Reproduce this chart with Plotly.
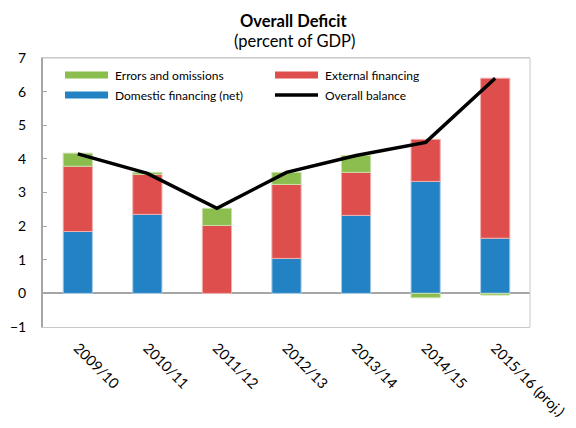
import plotly.graph_objects as go

categories = ["2009/10", "2010/11", "2011/12", "2012/13", "2013/14", "2014/15", "2015/16 (proj.)"]
domestic = [1.84, 2.35, 0.0, 1.04, 2.32, 3.33, 1.64]
external = [1.94, 1.19, 2.02, 2.20, 1.28, 1.25, 4.76]
errors = [0.39, 0.06, 0.51, 0.36, 0.50, -0.13, -0.05]
overall = [4.15, 3.57, 2.53, 3.60, 4.10, 4.49, 6.40]

FONT = "Lato"
C_DOM, C_EXT, C_ERR = "#2382c4", "#dd4e4c", "#8cbd4f"

fig = go.Figure()
fig.add_trace(go.Bar(x=categories, y=domestic, name="Domestic financing (net)",
                     marker=dict(color=C_DOM, line=dict(color="#a9cde9", width=1))))
fig.add_trace(go.Bar(x=categories, y=external, name="External financing",
                     marker=dict(color=C_EXT, line=dict(color="#f0b0ae", width=1))))
fig.add_trace(go.Bar(x=categories, y=errors, name="Errors and omissions",
                     marker=dict(color=C_ERR, line=dict(color="#c8e0ab", width=1))))
fig.add_trace(go.Scatter(x=categories, y=overall, name="Overall balance", mode="lines",
                         line=dict(color="black", width=3.5)))

W, H = 568, 420
ML, MR, MT, MB = 35, 46, 50, 101
PW, PH = W - ML - MR, H - MT - MB


def px_x(px):  # page pixel -> paper x (page has 8px body margin)
    return (px - 8 - ML) / PW


def px_y(py):
    return (H - MB - (py - 8)) / PH


annotations = [
    dict(text="<b>Overall Deficit</b>", x=px_x(293), y=px_y(21), font=dict(size=16.5)),
    dict(text="(percent of GDP)", x=px_x(294), y=px_y(41), font=dict(size=16.5)),
]
shapes = []
legend_items = [
    ("Errors and omissions", C_ERR, 65, 75, "bar"),
    ("External financing", C_EXT, 275, 75, "bar"),
    ("Domestic financing (net)", C_DOM, 65, 95, "bar"),
    ("Overall balance", "black", 275, 95, "line"),
]
for label, color, sx, sy, kind in legend_items:
    if kind == "bar":
        shapes.append(dict(type="rect", xref="paper", yref="paper", x0=px_x(sx), x1=px_x(sx + 43),
                           y0=px_y(sy + 3.5), y1=px_y(sy - 3.5), fillcolor=color, line=dict(width=0)))
    else:
        shapes.append(dict(type="line", xref="paper", yref="paper", x0=px_x(sx), x1=px_x(sx + 43),
                           y0=px_y(sy), y1=px_y(sy), line=dict(color=color, width=3.5)))
    annotations.append(dict(text=label, x=px_x(sx + 48), y=px_y(sy), xanchor="left",
                            font=dict(size=12)))
for a in annotations:
    a.update(xref="paper", yref="paper", showarrow=False, yanchor=a.get("yanchor", "middle"))
    a.setdefault("xanchor", "center")
    a["font"]["family"] = FONT
    a["font"]["color"] = "black"

shapes += [
    dict(type="line", xref="paper", yref="paper", x0=1, x1=1, y0=0, y1=1, line=dict(color="#c8c8c8", width=1)),
    dict(type="line", xref="paper", yref="paper", x0=0, x1=1, y0=1, y1=1, line=dict(color="#c8c8c8", width=1)),
]

fig.update_layout(
    width=W, height=H,
    barmode="relative", bargap=0.58,
    margin=dict(l=ML, r=MR, t=MT, b=MB, autoexpand=False),
    paper_bgcolor="white", plot_bgcolor="white",
    font=dict(family=FONT, size=14, color="black"),
    showlegend=False,
    annotations=annotations,
    shapes=shapes,
)
fig.update_xaxes(showline=True, linecolor="#c8c8c8", linewidth=1, mirror=True,
                 tickangle=45, ticks="", showgrid=False, tickfont=dict(size=14.5, family=FONT),
                 automargin=False, ticklabelstandoff=6)
fig.update_yaxes(range=[-1, 7], dtick=1, showline=True, linecolor="#a6a6a6", linewidth=2, mirror=False,
                 ticks="inside", ticklen=4, tickcolor="#a6a6a6", showgrid=False,
                 zeroline=True, zerolinecolor="#a6a6a6", zerolinewidth=2,
                 tickfont=dict(size=14, family=FONT), automargin=False, ticklabelstandoff=12)
fig.write_html("out.html")
